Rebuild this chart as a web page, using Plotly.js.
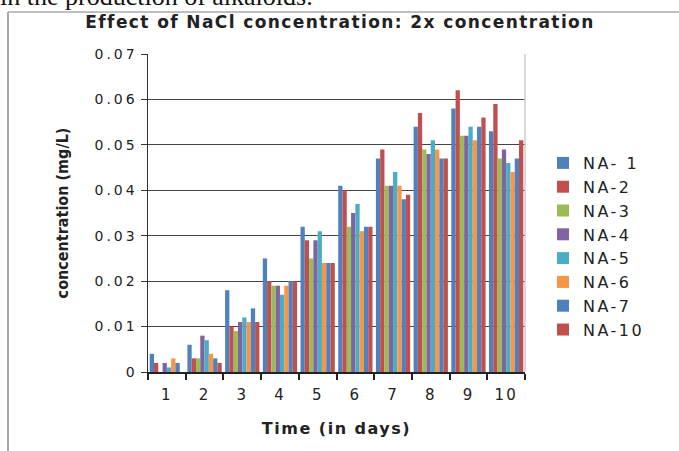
<!DOCTYPE html>
<html>
<head>
<meta charset="utf-8">
<script src="https://cdn.plot.ly/plotly-3.0.1.min.js"></script>
<style>
html,body{margin:0;padding:0;background:#fff;}
#chart{width:679px;height:451px;}
text.gtitle{letter-spacing:1.4px;}
.xtick text{letter-spacing:2px;}
.ytick text{letter-spacing:3px;}
text.legendtext{letter-spacing:2.5px;}
text.xtitle{letter-spacing:1.5px;}
</style>
</head>
<body>
<div id="chart"></div>
<script>
const days = ["1","2","3","4","5","6","7","8","9","10"];
const seriesNames = ["NA- 1","NA-2","NA-3","NA-4","NA-5","NA-6","NA-7","NA-10"];
const na1  = [0.004,0.006,0.018,0.025,0.032,0.041,0.047,0.054,0.058,0.053];
const na2  = [0.002,0.003,0.010,0.020,0.029,0.040,0.049,0.057,0.062,0.059];
const na3  = [0.000,0.003,0.009,0.019,0.025,0.032,0.041,0.049,0.052,0.047];
const na4  = [0.002,0.008,0.011,0.019,0.029,0.035,0.041,0.048,0.052,0.049];
const na5  = [0.001,0.007,0.012,0.017,0.031,0.037,0.044,0.051,0.054,0.046];
const na6  = [0.003,0.004,0.011,0.019,0.024,0.031,0.041,0.049,0.051,0.044];
const na7  = [0.002,0.003,0.014,0.020,0.024,0.032,0.038,0.047,0.054,0.047];
const na10 = [0.000,0.002,0.011,0.020,0.024,0.032,0.039,0.047,0.056,0.051];
const seriesValues = [na1,na2,na3,na4,na5,na6,na7,na10];
const colors = ["#4F81BD","#C0504D","#9BBB59","#8064A2","#4BACC6","#F79646","#4F81BD","#C0504D"];

const traces = seriesValues.map((v,i)=>({
  type:"bar", x:days, y:v, name:seriesNames[i],
  marker:{color:colors[i]}, hoverinfo:"none"
}));

const L=148, R=525, T=54, B=372;
const W=R-L, H=B-T;
const px = x => (x-L)/W;
const py = y => 1-(y-T)/H;

const layout = {
  width:679, height:451,
  margin:{l:L, r:679-R, t:T, b:451-B, pad:0},
  paper_bgcolor:"#fff", plot_bgcolor:"#fff",
  barmode:"group", bargap:0.09, bargroupgap:0,
  showlegend:true,
  font:{family:"DejaVu Sans, Verdana, sans-serif", color:"#222"},
  title:{text:"<b>Effect of NaCl concentration: 2x concentration</b>",
         font:{size:17, family:"DejaVu Sans, Verdana, sans-serif", color:"#222"},
         x:px(340), xref:"paper", xanchor:"center", y:1-22/451, yanchor:"middle"},
  xaxis:{type:"category", tickson:"boundaries", ticks:"outside", ticklen:6, tickwidth:2,
         tickcolor:"#222", showline:true, linecolor:"#222", linewidth:2,
         showgrid:false, zeroline:false, ticklabelstandoff:8,
         tickfont:{size:15, color:"#222"},
         title:{text:"<b>Time (in days)</b>", font:{size:16, color:"#222"}, standoff:20}},
  yaxis:{range:[0,0.07], dtick:0.01, tick0:0, ticks:"outside", ticklen:6, tickwidth:1,
         tickcolor:"#333", showline:true, linecolor:"#333", linewidth:1.5,
         showgrid:true, gridcolor:"#444", gridwidth:1, zeroline:false,
         tickfont:{size:14, color:"#222"},
         title:{text:"<b>concentration (mg/L)</b>",
                font:{size:16, family:"Liberation Sans Narrow, DejaVu Sans Condensed, sans-serif", color:"#222"},
                standoff:22}},
  legend:{x:px(543), y:py(146), xanchor:"left", yanchor:"top",
          font:{size:16, color:"#222"}, tracegroupgap:0, itemwidth:30,
          bgcolor:"rgba(0,0,0,0)"},
  shapes:[
    {type:"line", xref:"paper", yref:"paper", x0:px(8), x1:px(8), y0:py(12), y1:py(455), line:{color:"#aaa", width:2}},
    {type:"line", xref:"paper", yref:"paper", x0:px(8), x1:px(690), y0:py(12), y1:py(12), line:{color:"#aaa", width:1.5}},
    {type:"line", xref:"paper", yref:"paper", x0:1, x1:1, y0:0, y1:1, line:{color:"#ccc", width:1.5}}
  ],
  annotations:[
    {text:"in the production of alkaloids.", xref:"paper", yref:"paper",
     x:px(-2), y:py(13), xanchor:"left", yanchor:"bottom", showarrow:false,
     font:{family:"Liberation Serif, serif", size:26, color:"#111"}}
  ]
};

Plotly.newPlot("chart", traces, layout, {displayModeBar:false, staticPlot:true});
</script>
</body>
</html>
